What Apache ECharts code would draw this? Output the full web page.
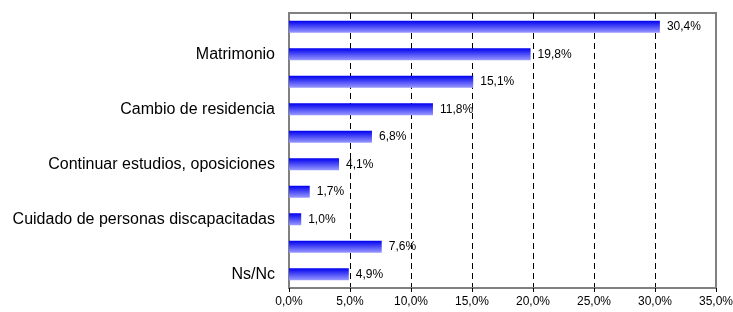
<!DOCTYPE html>
<html>
<head>
<meta charset="utf-8">
<script src="https://cdn.jsdelivr.net/npm/echarts@6/dist/echarts.min.js"></script>
<style>
  html, body { margin: 0; padding: 0; background: #fff; }
  #chart { width: 733px; height: 312px; }
</style>
</head>
<body>
<div id="chart"></div>
<script>
// categorías (solo se ven las de posición par en el original)
const categorias = [
    'Cuidado de hijos',
    'Matrimonio',
    'Despido',
    'Cambio de residencia',
    'Fin de contrato',
    'Continuar estudios, oposiciones',
    'Embarazo',
    'Cuidado de personas discapacitadas',
    'Otros',
    'Ns/Nc'
];
// porcentajes
const valores = [30.4, 19.8, 15.1, 11.8, 6.8, 4.1, 1.7, 1.0, 7.6, 4.9];
// eje x
const ejeMin = 0;
const ejeMax = 35;
const ejePaso = 5;

const fmt = v => v.toFixed(1).replace('.', ',') + '%';

const chart = echarts.init(document.getElementById('chart'));
chart.setOption({
    animation: false,
    backgroundColor: '#fff',
    textStyle: { fontFamily: 'Liberation Sans, Arial, sans-serif' },
    grid: {
        left: 289, right: 17, top: 13, bottom: 24,
        outerBoundsMode: 'none',
        show: true, borderColor: '#808080', borderWidth: 2
    },
    xAxis: {
        type: 'value',
        min: ejeMin, max: ejeMax, interval: ejePaso,
        axisLine: { show: true, lineStyle: { color: '#808080', width: 2 } },
        axisTick: { show: true, length: 4, lineStyle: { color: '#000' } },
        axisLabel: {
            color: '#000', fontSize: 12, margin: 8,
            formatter: v => fmt(v)
        },
        splitLine: {
            show: true, showMinLine: false, showMaxLine: false,
            lineStyle: { color: '#000', type: [6, 4], width: 1 }
        }
    },
    yAxis: {
        type: 'category',
        inverse: true,
        data: categorias,
        axisLine: { show: false },
        axisTick: { show: false },
        axisLabel: {
            color: '#000', fontSize: 16, margin: 14,
            interval: (i) => i % 2 === 1
        }
    },
    series: [{
        type: 'bar',
        data: valores,
        barWidth: 12,
        itemStyle: {
            color: new echarts.graphic.LinearGradient(0, 0, 0, 1, [
                { offset: 0, color: '#0000f0' },
                { offset: 1, color: '#9a9aff' }
            ])
        },
        label: {
            show: true, position: 'right', distance: 7,
            color: '#000', fontSize: 12,
            formatter: p => fmt(p.value)
        }
    }]
});
</script>
</body>
</html>
